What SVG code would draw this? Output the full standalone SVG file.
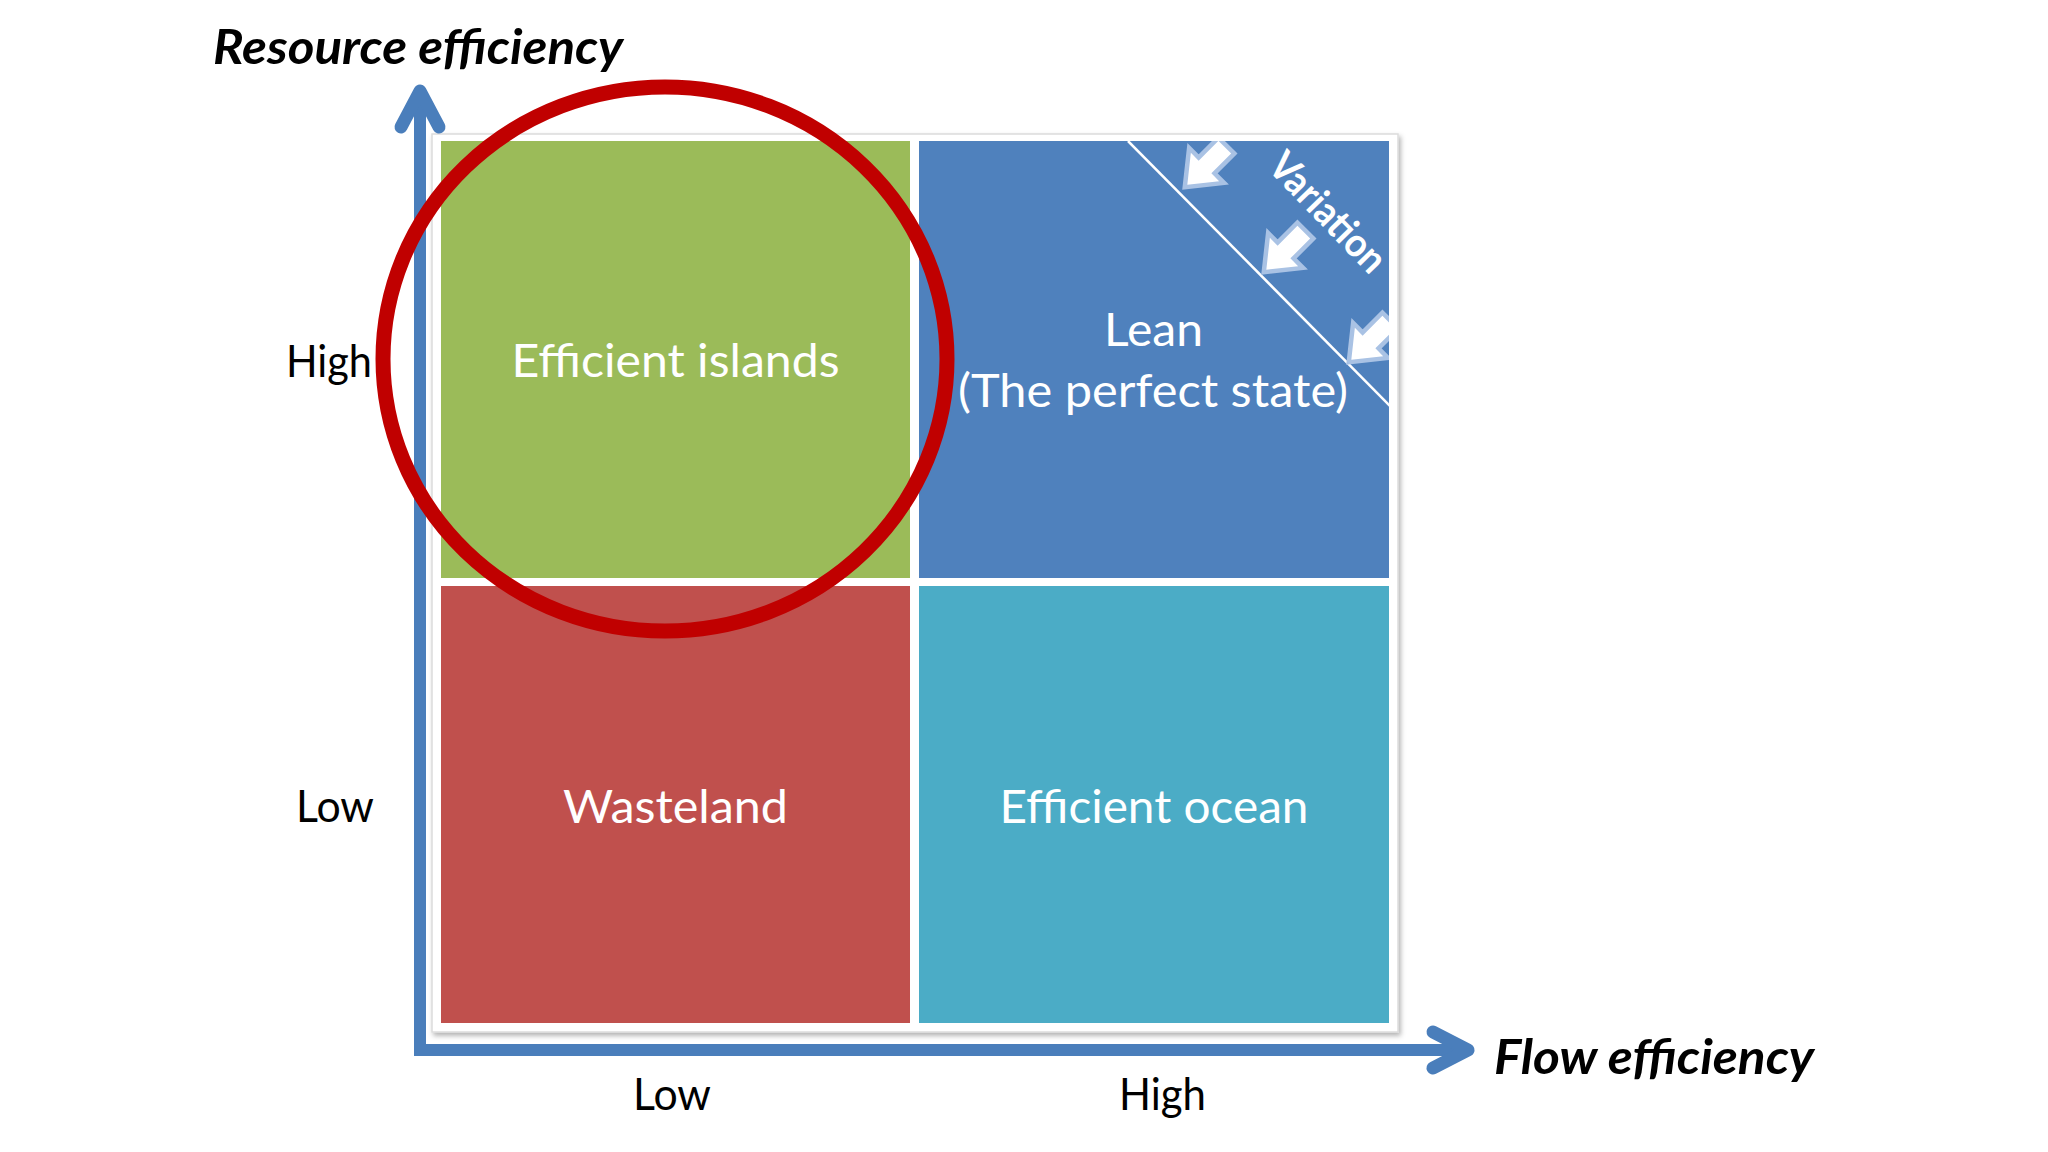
<svg xmlns="http://www.w3.org/2000/svg" width="2048" height="1152" viewBox="0 0 2048 1152">
  <style>
    .axislbl { font-family: Lato, "Open Sans", "Liberation Sans", sans-serif; font-size: 44px; fill: #000000; }
    .title { font-family: Lato, "Open Sans", "Liberation Sans", sans-serif; font-size: 48px; font-weight: bold; font-style: italic; fill: #000000; }
    .qlbl { font-family: Lato, "Open Sans", "Liberation Sans", sans-serif; font-size: 47px; fill: #ffffff; text-anchor: middle; }
    .var { font-family: Lato, "Open Sans", "Liberation Sans", sans-serif; font-size: 40px; font-weight: bold; fill: #ffffff; text-anchor: middle; }
    .axis { fill: none; stroke: #4a7ebb; stroke-width: 12; }
    .head { fill: none; stroke: #4a7ebb; stroke-width: 13; stroke-linecap: round; stroke-linejoin: round; }
    .varrow { fill: #ffffff; stroke: #a9c2e4; stroke-width: 9; stroke-linejoin: miter; paint-order: stroke; }
  </style>
  <defs>
    <filter id="shadow" x="-5%" y="-5%" width="110%" height="110%">
      <feDropShadow dx="2" dy="3" stdDeviation="2.5" flood-color="#000000" flood-opacity="0.3"/>
    </filter>
    <path id="blockArrow" d="M -28 -9 L 0 -9 L 0 -20 L 25 0 L 0 20 L 0 9 L -28 9 Z"/>
    <clipPath id="blueClip">
      <rect x="919" y="141" width="470" height="437"/>
    </clipPath>
  </defs>
  <rect x="0" y="0" width="2048" height="1152" fill="#ffffff"/>

  <g id="panel">
    <rect x="432" y="134" width="966" height="898" fill="#ffffff" stroke="#dcdcdc" stroke-width="1.5" filter="url(#shadow)"/>
  </g>

  <g id="efficient-islands">
    <rect x="441" y="141" width="469" height="437" fill="#9bbb59"/>
    <text class="qlbl" x="675.5" y="377" textLength="328" lengthAdjust="spacingAndGlyphs">Efficient islands</text>
  </g>
  <g id="lean">
    <rect x="919" y="141" width="470" height="437" fill="#4f81bd"/>
    <text class="qlbl" x="1153.5" y="346" textLength="99" lengthAdjust="spacingAndGlyphs">Lean</text>
    <text class="qlbl" x="1153" y="407" textLength="390" lengthAdjust="spacingAndGlyphs">(The perfect state)</text>
  </g>
  <g id="variation" clip-path="url(#blueClip)">
    <line x1="1128" y1="141" x2="1392" y2="408" stroke="#ffffff" stroke-width="2.5"/>
    <use href="#blockArrow" class="varrow" transform="translate(1205 167) rotate(135)"/>
    <use href="#blockArrow" class="varrow" transform="translate(1284 252) rotate(135)"/>
    <use href="#blockArrow" class="varrow" transform="translate(1369 342) rotate(135)"/>
    <text class="var" transform="translate(1318 222) rotate(46)" textLength="150" lengthAdjust="spacingAndGlyphs">Variation</text>
  </g>
  <g id="wasteland">
    <rect x="441" y="586" width="469" height="437" fill="#c0504d"/>
    <text class="qlbl" x="675.5" y="823" textLength="225" lengthAdjust="spacingAndGlyphs">Wasteland</text>
  </g>
  <g id="efficient-ocean">
    <rect x="919" y="586" width="470" height="437" fill="#4bacc6"/>
    <text class="qlbl" x="1154" y="823" textLength="309" lengthAdjust="spacingAndGlyphs">Efficient ocean</text>
  </g>

  <g id="connectors">
    <path class="axis" d="M 420 92 L 420 1050 L 1466 1050"/>
    <polyline class="head" points="401,127 420,91 439,127"/>
    <polyline class="head" points="1433,1032 1468,1050 1433,1068"/>
  </g>

  <g id="labels">
    <text class="title" x="213" y="64" textLength="410" lengthAdjust="spacingAndGlyphs">Resource efficiency</text>
    <text class="title" x="1494" y="1074" textLength="320" lengthAdjust="spacingAndGlyphs">Flow efficiency</text>
    <text class="axislbl" x="286" y="377" textLength="86" lengthAdjust="spacingAndGlyphs">High</text>
    <text class="axislbl" x="296" y="822" textLength="78" lengthAdjust="spacingAndGlyphs">Low</text>
    <text class="axislbl" x="633" y="1110" textLength="78" lengthAdjust="spacingAndGlyphs">Low</text>
    <text class="axislbl" x="1119" y="1110" textLength="87" lengthAdjust="spacingAndGlyphs">High</text>
  </g>

  <g id="highlight-circle">
    <ellipse cx="665" cy="359" rx="282" ry="272" fill="none" stroke="#c00000" stroke-width="15"/>
  </g>
</svg>
